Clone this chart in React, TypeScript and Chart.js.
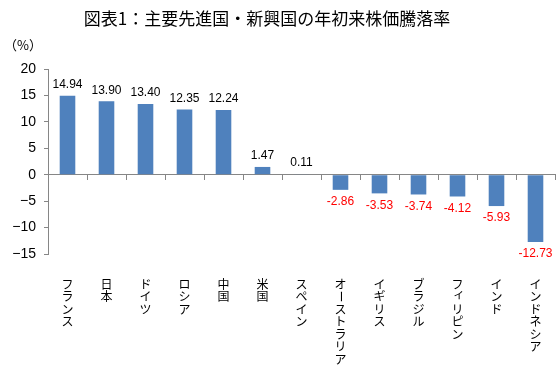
import React, { useEffect, useRef } from "react";
import { Chart, registerables } from "chart.js";

Chart.register(...registerables);

const title = "図表1：主要先進国・新興国の年初来株価騰落率";
const unitLabel = "（%）";
const categories = [
  "フランス",
  "日本",
  "ドイツ",
  "ロシア",
  "中国",
  "米国",
  "スペイン",
  "オーストラリア",
  "イギリス",
  "ブラジル",
  "フィリピン",
  "インド",
  "インドネシア",
];
const values = [14.94, 13.9, 13.4, 12.35, 12.24, 1.47, 0.11, -2.86, -3.53, -3.74, -4.12, -5.93, -12.73];
const yTicks = [20, 15, 10, 5, 0, -5, -10, -15];

const NUM_FONT = '"Liberation Sans", Arial, sans-serif';
const JP_FONT = '"Noto Sans CJK JP", sans-serif';
const SMALL_KANA = "ァィゥェォッャュョ";

const decorPlugin = {
  id: "decor",
  afterDraw(chart: any) {
    const ctx = chart.ctx;
    const x = chart.scales.x;
    ctx.save();
    // title
    ctx.fillStyle = "#000";
    ctx.font = `17px ${JP_FONT}`;
    ctx.textAlign = "center";
    ctx.textBaseline = "middle";
    ctx.fillText(title, 267, 19);
    // unit
    ctx.font = `13px ${JP_FONT}`;
    ctx.textAlign = "left";
    ctx.fillText(unitLabel, 4, 45);
    // vertical category labels
    ctx.font = `12px ${JP_FONT}`;
    categories.forEach((label, i) => {
      const cx = x.getPixelForValue(i);
      let y = 278;
      for (const ch of Array.from(label)) {
        if (ch === "ー") {
          ctx.save();
          ctx.translate(cx, y + 6);
          ctx.rotate(Math.PI / 2);
          ctx.textAlign = "center";
          ctx.textBaseline = "middle";
          ctx.fillText(ch, 0, 0);
          ctx.restore();
        } else if (SMALL_KANA.includes(ch)) {
          ctx.textAlign = "center";
          ctx.textBaseline = "top";
          ctx.fillText(ch, cx + 1.5, y - 2);
        } else {
          ctx.textAlign = "center";
          ctx.textBaseline = "top";
          ctx.fillText(ch, cx, y);
        }
        y += 12.5;
      }
    });
    // data labels
    const meta = chart.getDatasetMeta(0);
    ctx.font = `12px ${NUM_FONT}`;
    ctx.textAlign = "center";
    meta.data.forEach((bar: any, i: number) => {
      const v = values[i];
      const txt = v.toFixed(2);
      if (v >= 0) {
        ctx.fillStyle = "#000";
        ctx.textBaseline = "bottom";
        ctx.fillText(txt, bar.x, bar.y - 5);
      } else {
        ctx.fillStyle = "#FF0000";
        ctx.textBaseline = "top";
        ctx.fillText(txt, bar.x, bar.y + 6);
      }
    });
    ctx.restore();
  },
};

export default function App() {
  const ref = useRef<HTMLCanvasElement>(null);
  useEffect(() => {
    const chart = new Chart(ref.current!, {
      type: "bar",
      data: {
        labels: categories,
        datasets: [
          {
            data: values,
            backgroundColor: "#4F81BD",
            barPercentage: 0.4,
            categoryPercentage: 1,
          },
        ],
      },
      options: {
        responsive: false,
        animation: false,
        layout: { padding: { top: 69, bottom: 126, left: 0, right: 5 } },
        plugins: { legend: { display: false }, tooltip: { enabled: false }, title: { display: false } },
        scales: {
          x: {
            position: { y: 0 } as any,
            grid: { display: true, drawOnChartArea: false, offset: true, tickLength: 5, color: "#868686" },
            border: { color: "#868686" },
            ticks: { display: false },
          },
          y: {
            min: -15,
            max: 20,
            afterFit: (scale: any) => {
              scale.width = 48;
            },
            afterBuildTicks: (scale: any) => {
              scale.ticks = yTicks.map((v) => ({ value: v }));
            },
            grid: { display: true, drawOnChartArea: false, tickLength: 4, color: "#868686" },
            border: { color: "#868686" },
            ticks: {
              color: "#000",
              font: { family: NUM_FONT, size: 14 },
              padding: 8,
              callback: (v: any) => (Number(v) < 0 ? "−" + Math.abs(Number(v)) : String(v)),
            },
          },
        },
      },
      plugins: [decorPlugin],
    });
    return () => chart.destroy();
  }, []);
  return (
    <div style={{ position: "fixed", left: 0, top: 0, width: 560, height: 380, background: "#fff" }}>
      <canvas ref={ref} width={560} height={380} />
    </div>
  );
}
